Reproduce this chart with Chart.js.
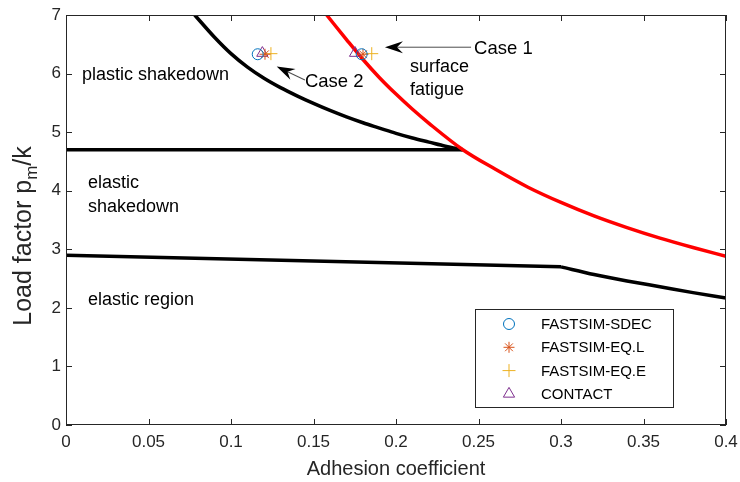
<!DOCTYPE html>
<html>
<head>
<meta charset="utf-8">
<script src="https://cdn.jsdelivr.net/npm/chart.js@4.4.1/dist/chart.umd.min.js"></script>
<style>
  html, body { margin: 0; padding: 0; background: #fff; }
  #wrap { width: 740px; height: 482px; }
</style>
</head>
<body>
<div id="wrap"><canvas id="c" width="740" height="482"></canvas></div>
<script>
// ─── SHAKEDOWN MAP: values ───────────────────────────────────────────────────

const xTickLabels = ['0', '0.05', '0.1', '0.15', '0.2', '0.25', '0.3', '0.35', '0.4'];
const yTickLabels = ['0', '1', '2', '3', '4', '5', '6', '7'];

// surface fatigue limit (red)
const fatigueX = [0.158, 0.17, 0.18, 0.19, 0.20, 0.21, 0.22, 0.2405, 0.26, 0.28, 0.30, 0.32, 0.34, 0.36, 0.38, 0.40];
const fatigueY = [7.00, 6.58, 6.24, 5.93, 5.65, 5.39, 5.15, 4.70, 4.37, 4.06, 3.80, 3.57, 3.37, 3.19, 3.03, 2.88];

// plastic shakedown limit
const plasticX = [0.078, 0.09, 0.10, 0.11, 0.12, 0.13, 0.14, 0.15, 0.16, 0.17, 0.18, 0.19, 0.20, 0.21, 0.22, 0.23, 0.2405];
const plasticY = [7.00, 6.62, 6.34, 6.11, 5.92, 5.76, 5.62, 5.49, 5.37, 5.26, 5.16, 5.07, 4.98, 4.90, 4.83, 4.76, 4.70];

// elastic shakedown limit
const shakedownX = [0, 0.2405];
const shakedownY = [4.70, 4.70];

// elastic limit
const elasticX = [0, 0.30];
const elasticY = [2.90, 2.70];
const elasticTailX = [0.30, 0.32, 0.34, 0.36, 0.38, 0.40];
const elasticTailY = [2.70, 2.57, 2.46, 2.36, 2.26, 2.17];

// operating points, Case 2 then Case 1
const sdecX = [0.1162, 0.1792];
const sdecY = [6.33, 6.33];
const eqlX = [0.1206, 0.1800];
const eqlY = [6.33, 6.33];
const eqeX = [0.1242, 0.1853];
const eqeY = [6.34, 6.34];
const contactX = [0.1190, 0.1752];
const contactY = [6.35, 6.35];

// region labels
const regionText = ['plastic shakedown', 'surface', 'fatigue', 'elastic', 'shakedown', 'elastic region'];
const regionX = [0.0097, 0.2085, 0.2085, 0.0133, 0.0133, 0.0133];
const regionY = [5.98, 6.11, 5.72, 4.13, 3.72, 2.13];

// case arrows
const caseText = ['Case 1', 'Case 2'];
const caseTipX = [0.1933, 0.1277];
const caseTipY = [6.45, 6.12];
const caseTailX = [0.2455, 0.1448];
const caseTailY = [6.45, 5.89];

const INK = '#262626';
const FONT = '"Liberation Sans", Arial, Helvetica, sans-serif';

const pts = (xs, ys) => xs.map((x, i) => ({ x, y: ys[i] }));

const legendItems = [
  { label: 'FASTSIM-SDEC', style: 'circle', color: '#0072BD', r: 5.5 },
  { label: 'FASTSIM-EQ.L', style: 'star', color: '#D95319', r: 5.5 },
  { label: 'FASTSIM-EQ.E', style: 'cross', color: '#EDB120', r: 6.5 },
  { label: 'CONTACT', style: 'triangle', color: '#7E2F8E', r: 6.5 }
];

function lineSet(xs, ys, color, smooth) {
  return {
    data: pts(xs, ys), showLine: true, borderColor: color, borderWidth: 3.5,
    pointRadius: 0, pointHoverRadius: 0, fill: false,
    cubicInterpolationMode: smooth ? 'monotone' : 'default', order: 2
  };
}

function markerSet(xs, ys, item) {
  return {
    data: pts(xs, ys), showLine: false, pointStyle: item.style, pointRadius: item.r,
    pointBorderColor: item.color, pointBackgroundColor: 'rgba(0,0,0,0)',
    pointBorderWidth: 1, pointHoverRadius: item.r, order: 1
  };
}

function drawArrow(ctx, x1, y1, x2, y2) {
  const ang = Math.atan2(y2 - y1, x2 - x1);
  const len = 18, half = 6, notch = 12;
  ctx.save();
  ctx.translate(x2, y2);
  ctx.rotate(ang);
  const d = Math.hypot(x2 - x1, y2 - y1);
  ctx.strokeStyle = '#4d4d4d';
  ctx.lineWidth = 1;
  ctx.beginPath();
  ctx.moveTo(-d, 0);
  ctx.lineTo(-notch, 0);
  ctx.stroke();
  ctx.fillStyle = '#000';
  ctx.beginPath();
  ctx.moveTo(0, 0);
  ctx.lineTo(-len, -half);
  ctx.lineTo(-notch, 0);
  ctx.lineTo(-len, half);
  ctx.closePath();
  ctx.fill();
  ctx.restore();
}

const decorations = {
  id: 'decorations',
  afterDatasetsDraw(chart) {
    const { ctx, chartArea: a, scales: { x, y } } = chart;
    ctx.save();

    // frame and inward ticks on all four sides
    ctx.strokeStyle = INK;
    ctx.lineWidth = 1;
    ctx.strokeRect(a.left + 0.5, a.top + 0.5, a.right - a.left - 1, a.bottom - a.top - 1);
    const tl = 6;
    ctx.beginPath();
    xTickLabels.forEach((_, i) => {
      const px = Math.round(x.getPixelForValue(i * 0.05)) + 0.5;
      ctx.moveTo(px, a.bottom); ctx.lineTo(px, a.bottom - tl);
      ctx.moveTo(px, a.top); ctx.lineTo(px, a.top + tl);
    });
    yTickLabels.forEach((_, i) => {
      const py = Math.round(y.getPixelForValue(i)) + 0.5;
      ctx.moveTo(a.left, py); ctx.lineTo(a.left + tl, py);
      ctx.moveTo(a.right, py); ctx.lineTo(a.right - tl, py);
    });
    ctx.stroke();

    // region labels
    ctx.fillStyle = '#000';
    ctx.font = '18px ' + FONT;
    ctx.textBaseline = 'middle';
    ctx.textAlign = 'left';
    regionText.forEach((t, i) => {
      ctx.fillText(t, x.getPixelForValue(regionX[i]), y.getPixelForValue(regionY[i]));
    });

    // case arrows
    ctx.font = '18.5px ' + FONT;
    caseText.forEach((t, i) => {
      const tx = x.getPixelForValue(caseTailX[i]), ty = y.getPixelForValue(caseTailY[i]);
      drawArrow(ctx, tx, ty, x.getPixelForValue(caseTipX[i]), y.getPixelForValue(caseTipY[i]));
      ctx.fillStyle = '#000';
      ctx.fillText(t, tx + (i === 0 ? 3 : 0), ty + 1.5);
    });

    // y axis title with subscript
    ctx.save();
    ctx.translate(31, (a.top + a.bottom) / 2 + 16);
    ctx.rotate(-Math.PI / 2);
    ctx.fillStyle = INK;
    ctx.textBaseline = 'alphabetic';
    const big = '25px ' + FONT, small = '17px ' + FONT;
    ctx.font = big;
    const w1 = ctx.measureText('Load factor p').width;
    const w3 = ctx.measureText('/k').width;
    ctx.font = small;
    const w2 = ctx.measureText('m').width;
    let cx = -(w1 + w2 + w3) / 2;
    ctx.font = big;
    ctx.fillText('Load factor p', cx, 0);
    cx += w1;
    ctx.font = small;
    ctx.fillText('m', cx, 6);
    cx += w2;
    ctx.font = big;
    ctx.fillText('/k', cx, 0);
    ctx.restore();

    // legend box
    const lw = 198, lh = 98;
    const lx = a.right - 53 - lw, ly = a.bottom - 18 - lh;
    ctx.fillStyle = '#fff';
    ctx.fillRect(lx, ly, lw, lh);
    ctx.strokeStyle = INK;
    ctx.lineWidth = 1;
    ctx.strokeRect(Math.round(lx) + 0.5, Math.round(ly) + 0.5, lw, lh);
    ctx.font = '15px ' + FONT;
    ctx.textBaseline = 'middle';
    legendItems.forEach((it, i) => {
      const ry = ly + 15 + i * 23.3;
      ctx.strokeStyle = it.color;
      ctx.fillStyle = 'rgba(0,0,0,0)';
      ctx.lineWidth = 1;
      Chart.helpers.drawPoint(ctx, { pointStyle: it.style, radius: it.r, rotation: 0, borderWidth: 1 }, lx + 34, ry);
      ctx.fillStyle = '#000';
      ctx.fillText(it.label, lx + 66, ry + 1);
    });

    ctx.restore();
  }
};

new Chart(document.getElementById('c'), {
  type: 'scatter',
  data: {
    datasets: [
      lineSet(fatigueX, fatigueY, '#FF0000', true),
      lineSet(plasticX, plasticY, '#000', true),
      lineSet(shakedownX, shakedownY, '#000', false),
      lineSet(elasticX, elasticY, '#000', false),
      lineSet(elasticTailX, elasticTailY, '#000', true),
      markerSet(sdecX, sdecY, legendItems[0]),
      markerSet(eqlX, eqlY, legendItems[1]),
      markerSet(eqeX, eqeY, legendItems[2]),
      markerSet(contactX, contactY, legendItems[3])
    ]
  },
  options: {
    responsive: false,
    animation: false,
    events: [],
    layout: { padding: { top: 15, right: 14, left: 0, bottom: 0 } },
    plugins: { legend: { display: false }, tooltip: { enabled: false } },
    scales: {
      x: {
        type: 'linear', min: 0, max: 0.4,
        grid: { display: false, drawTicks: false },
        border: { display: false },
        ticks: {
          stepSize: 0.05, padding: 7, color: INK, maxRotation: 0,
          font: { family: FONT, size: 17 },
          callback: (v, i) => xTickLabels[i]
        },
        title: {
          display: true, text: 'Adhesion coefficient', color: INK,
          font: { family: FONT, size: 20 }, padding: { top: 0, bottom: 1 }
        },
        afterFit: s => { s.height = 57; s.paddingLeft = 0; s.paddingRight = 0; }
      },
      y: {
        type: 'linear', min: 0, max: 7,
        grid: { display: false, drawTicks: false },
        border: { display: false },
        ticks: {
          stepSize: 1, padding: 5, color: INK,
          font: { family: FONT, size: 17 },
          callback: (v, i) => yTickLabels[i]
        },
        afterFit: s => { s.width = 66; s.paddingTop = 0; s.paddingBottom = 0; }
      }
    }
  },
  plugins: [decorations]
});
</script>
</body>
</html>
